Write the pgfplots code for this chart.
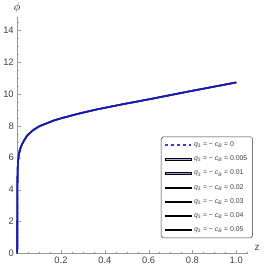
\documentclass[border=0pt]{standalone}
\usepackage{fontspec}
\setmainfont{Liberation Sans}
\usepackage{pgfplots}
\usepackage{pgfplotstable}
\pgfplotsset{compat=1.18}
\definecolor{c0}{HTML}{3C3CD2}
\definecolor{c1}{HTML}{B0B0EC}
\definecolor{c2}{HTML}{9898E4}
\definecolor{c3}{HTML}{8080DC}
\definecolor{c4}{HTML}{5C5CD0}
\definecolor{c5}{HTML}{3838C0}
\definecolor{c6}{HTML}{1818A8}
\newcommand{\lab}[1]{\textcolor{black!75}{\textit{q}\textsubscript{3} = − \textit{c}\textsubscript{\textit{B}} = #1}}
\pgfplotstableread{
z phi
0 0
0.0003 1.5
0.0006 3.0
0.001 4.2
0.0015 4.8
0.002 5.2
0.003 5.55
0.004 5.8
0.006 6.05
0.008 6.25
0.015 6.6
0.023 6.87
0.033 7.12
0.045 7.38
0.06 7.58
0.075 7.75
0.1 7.97
0.135 8.16
0.17 8.35
0.21 8.51
0.285 8.78
0.36 9.02
0.48 9.35
0.6 9.66
0.7 9.93
0.8 10.2
0.9 10.46
1.0 10.72
}\dataA
\begin{document}
\begin{tikzpicture}
\begin{axis}[
  scale only axis,
  width=234.2pt, height=239.3pt,
  xmin=0, xmax=1.055, ymin=0, ymax=14.8,
  axis lines=left,
  axis line style={-, black!40},
  xtick={0.2,0.4,0.6,0.8,1.0},
  xticklabels={0.2,0.4,0.6,0.8,1.0},
  ytick={0,2,4,6,8,10,12,14},
  minor xtick={0.05,0.1,0.15,0.25,0.3,0.35,0.45,0.5,0.55,0.65,0.7,0.75,0.85,0.9,0.95,1.05},
  minor ytick={0.5,1,1.5,2.5,3,3.5,4.5,5,5.5,6.5,7,7.5,8.5,9,9.5,10.5,11,11.5,12.5,13,13.5,14.5},
  tick align=inside,
  major tick length=4pt, minor tick length=2pt,
  tick style={black!40},
  ticklabel style={font=\fontsize{9.5}{10}\selectfont, text=black!75},
  /pgf/number format/assume math mode=true,
  clip=false,
  xlabel={z},
  xlabel style={at={(rel axis cs:1,0)}, anchor=west, xshift=3pt, yshift=6pt, font=\fontsize{10}{11}\selectfont, text=black!75},
  ylabel={$\phi$},
  ylabel style={at={(rel axis cs:0,1)}, anchor=south, rotate=-90, yshift=1pt, font=\fontsize{11}{12}\selectfont},
  legend style={at={(rel axis cs:1.018,0.494)}, anchor=north east, name=leg,
    draw=none, fill=white, font=\fontsize{7}{8}\selectfont,
    row sep=3.9pt, inner xsep=3pt, inner ysep=3pt},
  legend cell align=left,
]
\addlegendimage{legend image code/.code={\draw[draw=c0, dashed, line width=1.3pt, sharp corners] (0cm,0cm) -- (0.94cm,0cm);}}
\addlegendentry{\lab{0}}
\addlegendimage{legend image code/.code={\fill[fill=c1, sharp corners] (0cm,-0.65pt) rectangle (0.94cm,0.65pt);}}
\addlegendentry{\lab{0.005}}
\addlegendimage{legend image code/.code={\fill[fill=c2, sharp corners] (0cm,-0.65pt) rectangle (0.94cm,0.65pt);}}
\addlegendentry{\lab{0.01}}
\addlegendimage{legend image code/.code={\fill[fill=c3, sharp corners] (0cm,-0.65pt) rectangle (0.94cm,0.65pt);}}
\addlegendentry{\lab{0.02}}
\addlegendimage{legend image code/.code={\fill[fill=c4, sharp corners] (0cm,-0.65pt) rectangle (0.94cm,0.65pt);}}
\addlegendentry{\lab{0.03}}
\addlegendimage{legend image code/.code={\fill[fill=c5, sharp corners] (0cm,-0.65pt) rectangle (0.94cm,0.65pt);}}
\addlegendentry{\lab{0.04}}
\addlegendimage{legend image code/.code={\fill[fill=c6, sharp corners] (0cm,-0.65pt) rectangle (0.94cm,0.65pt);}}
\addlegendentry{\lab{0.05}}
\addplot[draw=c0, dashed, line width=1.2pt, forget plot] table[x=z,y=phi] {\dataA};
\addplot[draw=c1, line width=1.6pt, forget plot] table[x=z,y=phi] {\dataA};
\addplot[draw=c2, line width=1.6pt, forget plot] table[x=z,y=phi] {\dataA};
\addplot[draw=c3, line width=1.6pt, forget plot] table[x=z,y=phi] {\dataA};
\addplot[draw=c4, line width=1.6pt, forget plot] table[x=z,y=phi] {\dataA};
\addplot[draw=c5, line width=1.6pt, forget plot] table[x=z,y=phi] {\dataA};
\addplot[draw=c6, line width=1.6pt, forget plot] table[x=z,y=phi] {\dataA};
\end{axis}
\draw[black!80, line width=0.5pt, rounded corners=2pt] (leg.south west) rectangle (leg.north east);
\path[use as bounding box] (-16.5pt,-13.7pt) rectangle (250.5pt,253.3pt);
\end{tikzpicture}
\end{document}
